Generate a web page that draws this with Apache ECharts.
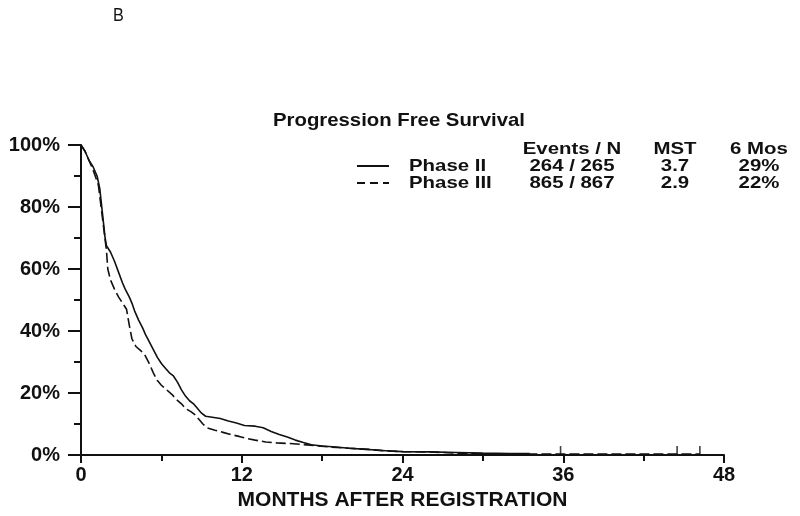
<!DOCTYPE html>
<html>
<head>
<meta charset="utf-8">
<script src="https://cdn.jsdelivr.net/npm/echarts@6/dist/echarts.min.js"></script>
<style>
  html, body { margin: 0; padding: 0; background: #fff; }
  #chart { width: 800px; height: 516px; }
</style>
</head>
<body>
<div id="chart"></div>
<script>
const FONT = "'Liberation Sans', Arial, sans-serif";

// Kaplan-Meier estimates (months, % progression free)
const phase2Months = [0, 0.3, 0.6, 0.9, 1.2, 1.4, 1.6, 1.8, 1.9, 2.2, 2.5, 2.8, 3.1, 3.3, 3.6, 3.8, 4.0, 4.3, 4.6, 4.8,
  5.1, 5.4, 5.7, 6.0, 6.3, 6.6, 6.9, 7.2, 7.5, 7.8, 8.1, 8.4, 8.7, 9.0, 9.3, 9.8, 10.4, 11.0, 11.6, 12.2,
  13.0, 13.6, 14.2, 14.8, 15.4, 16.0, 16.6, 17.2, 18.0, 19.0, 20.0, 21.0, 22.0, 23.0, 24.0, 26.0, 28.0, 30.0, 32.0, 33.5];
const phase2Surv = [100, 98, 95, 93, 90, 86, 78, 70, 67.5, 65.5, 62.5, 59, 55.5, 53.5, 51, 49, 46.5, 43.5, 41, 39,
  36.5, 34, 31.5, 29.5, 28, 26.5, 25.5, 23.5, 21, 19, 17.5, 16.5, 15, 13.5, 12.5, 12.2, 11.8, 11, 10.3, 9.5,
  9.3, 8.8, 7.6, 6.6, 5.8, 4.8, 4.0, 3.3, 2.9, 2.6, 2.2, 1.9, 1.6, 1.3, 1.1, 1.0, 0.8, 0.6, 0.5, 0.5];

const phase3Months = [0, 0.3, 0.6, 0.9, 1.1, 1.3, 1.5, 1.7, 1.9, 2.0, 2.2, 2.5, 2.8, 3.1, 3.4, 3.6, 3.8, 4.1, 4.5, 4.8,
  5.1, 5.4, 5.7, 6.0, 6.4, 6.8, 7.1, 7.5, 7.8, 8.2, 8.5, 8.8, 9.1, 9.4, 10.0, 10.6, 11.2, 11.8, 12.4, 13.0,
  13.8, 14.6, 15.6, 16.5, 17.5, 18.5, 20.0, 21.5, 22.5, 24.0, 26.0, 28.0, 30.0, 36.0, 46.2];
const phase3Surv = [100, 98, 95, 92, 89.5, 87, 80, 73, 66, 60, 56.5, 53.5, 51, 49, 47, 42, 37.5, 35, 33.5, 32,
  29.5, 26.5, 24, 22.5, 21, 19.5, 18, 16.5, 15, 14, 13, 11.5, 10, 8.8, 8, 7.3, 6.6, 6.0, 5.3, 4.8,
  4.2, 3.9, 3.7, 3.4, 3.0, 2.6, 2.2, 1.8, 1.4, 1.1, 1.0, 0.6, 0.4, 0.3, 0.3];

// censored observations in the long tail
const phase3CensorMonths = [35.8, 44.5, 46.2];
const phase3CensorSurv = [0.3, 0.3, 0.3];

const xTicks = [0, 12, 24, 36, 48];
const legendHeaders = ['Events / N', 'MST', '6 Mos'];
const legendRows = [
  { name: 'Phase II', events: '264 / 265', mst: '3.7', six: '29%', dash: null },
  { name: 'Phase III', events: '865 / 867', mst: '2.9', six: '22%', dash: [8, 5] },
];

const zip = (xs, ys) => xs.map((x, i) => [x, ys[i]]);

// the source lettering is a little stretched sideways, hence scaleX
const txt = (text, x, y, opts = {}, sx = 1.2) => ({
  type: 'text',
  x, y,
  scaleX: sx,
  style: Object.assign({
    text,
    font: `bold 17px ${FONT}`,
    fill: '#111',
    align: 'left',
    verticalAlign: 'middle',
  }, opts),
});

// legend table drawn as free text, like the original
const colX = [572, 675, 759];
const rowY = [166, 183];
const graphics = [
  txt('B', 113, 16, { font: `18px ${FONT}` }, 0.9),
  txt('Progression Free Survival', 273, 121, { font: `bold 19px ${FONT}` }, 1.07),
];
legendHeaders.forEach((h, i) => graphics.push(txt(h, colX[i], 149, { align: 'center' })));
legendRows.forEach((r, i) => {
  const y = rowY[i];
  graphics.push({
    type: 'line',
    shape: { x1: 357, y1: y, x2: 389, y2: y },
    style: { stroke: '#111', lineWidth: 2, lineDash: r.dash },
  });
  graphics.push(txt(r.name, 409, y));
  graphics.push(txt(r.events, colX[0], y, { align: 'center' }));
  graphics.push(txt(r.mst, colX[1], y, { align: 'center' }));
  graphics.push(txt(r.six, colX[2], y, { align: 'center' }));
});

const chart = echarts.init(document.getElementById('chart'));
chart.setOption({
  animation: false,
  backgroundColor: '#fff',
  textStyle: { fontFamily: FONT, color: '#111' },
  grid: { left: 81, right: 76, top: 145, bottom: 61 },
  xAxis: {
    type: 'value',
    min: xTicks[0],
    max: xTicks[xTicks.length - 1],
    interval: 12,
    name: 'MONTHS AFTER REGISTRATION',
    nameLocation: 'middle',
    nameGap: 31,
    nameTextStyle: { fontSize: 21, fontWeight: 'bold', color: '#111' },
    axisLine: { lineStyle: { color: '#111', width: 2 } },
    axisTick: { length: 8, lineStyle: { color: '#111', width: 2 } },
    minorTick: { show: true, splitNumber: 2, length: 6, lineStyle: { color: '#111', width: 2 } },
    axisLabel: { margin: 10, fontSize: 20, fontWeight: 'bold', color: '#111' },
    splitLine: { show: false },
  },
  yAxis: {
    type: 'value',
    min: 0,
    max: 100,
    interval: 20,
    axisLine: { show: true, lineStyle: { color: '#111', width: 2 } },
    axisTick: { show: true, length: 13, lineStyle: { color: '#111', width: 2 } },
    minorTick: { show: true, splitNumber: 2, length: 7, lineStyle: { color: '#111', width: 2 } },
    axisLabel: { margin: 21, fontSize: 20, fontWeight: 'bold', color: '#111', formatter: '{value}%' },
    splitLine: { show: false },
  },
  series: [
    {
      name: 'Phase II',
      type: 'line',
      showSymbol: false,
      data: zip(phase2Months, phase2Surv),
      lineStyle: { color: '#111', width: 1.6 },
    },
    {
      name: 'Phase III',
      type: 'line',
      showSymbol: false,
      data: zip(phase3Months, phase3Surv),
      lineStyle: { color: '#111', width: 1.6, type: [10, 4] },
    },
    {
      name: 'Phase III censored',
      type: 'scatter',
      data: zip(phase3CensorMonths, phase3CensorSurv),
      symbol: 'rect',
      symbolSize: [1.6, 8],
      symbolOffset: [0, -4],
      itemStyle: { color: '#111' },
    },
  ],
  graphic: graphics,
});
</script>
</body>
</html>
